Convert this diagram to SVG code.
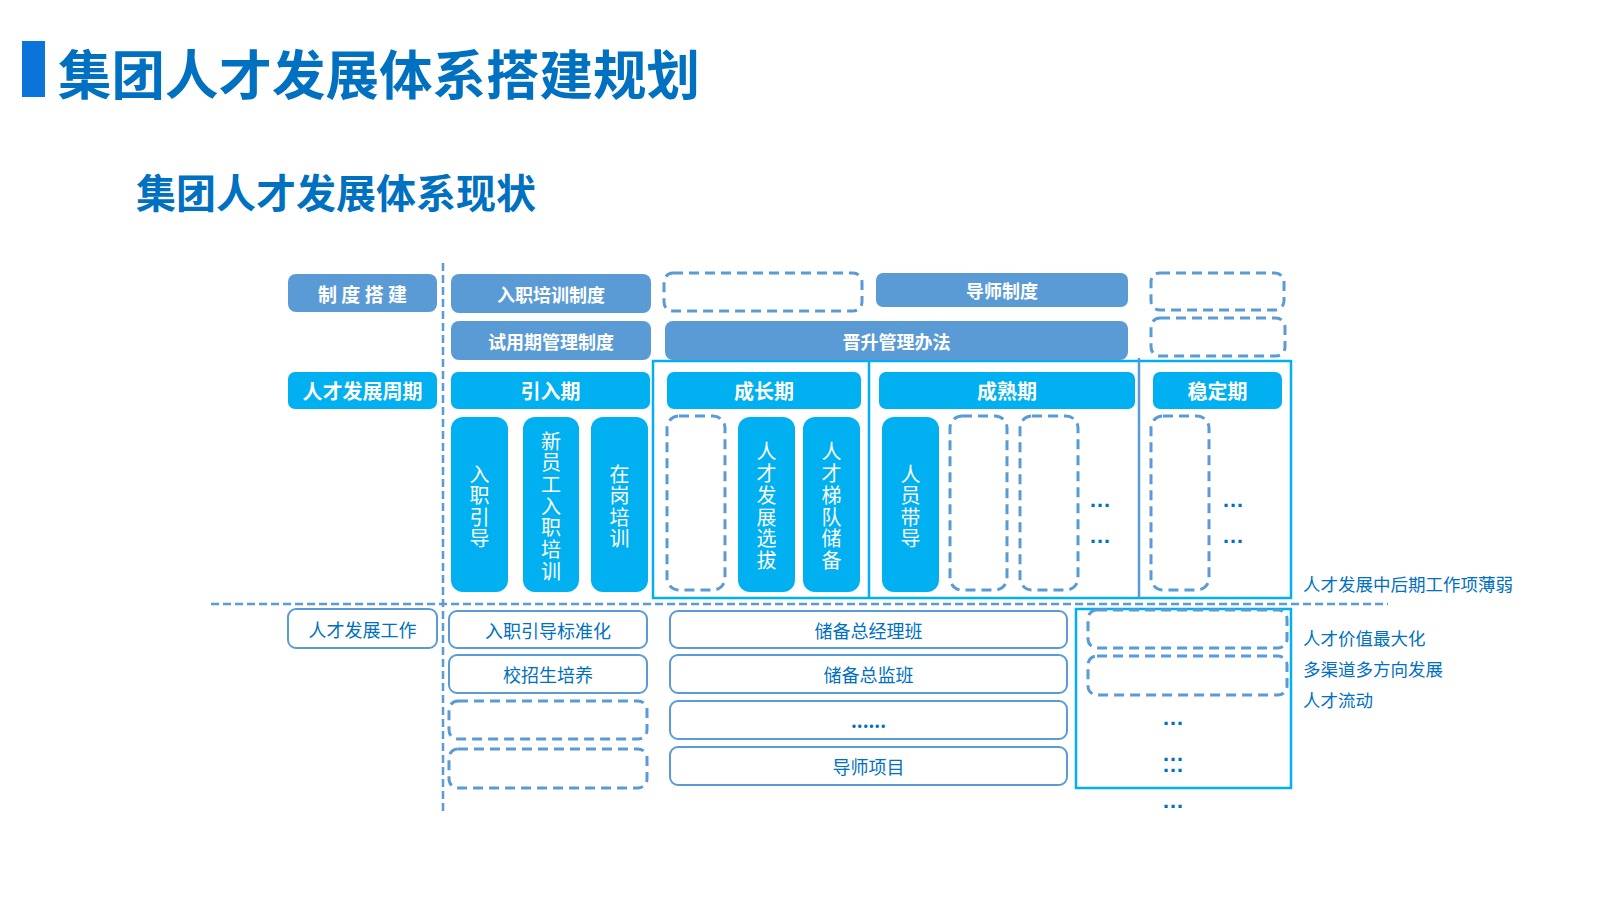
<svg xmlns="http://www.w3.org/2000/svg" width="1600" height="900" viewBox="0 0 1600 900">
<style>
text{font-family:"Noto Sans CJK SC","Noto Sans",sans-serif;dominant-baseline:central}
.m{fill:#5b9bd5}
.c{fill:#00b0f0}
.dash{fill:none;stroke:#5b9bd5;stroke-width:3;stroke-dasharray:10 6}
.out{fill:#fff;stroke:#5b9bd5;stroke-width:2}
.frame{fill:none;stroke:#00b0f0;stroke-width:2.5}
.div{stroke-width:2.5}
.wb{fill:#fff;font-weight:bold;text-anchor:middle}
.wv{fill:#fff;font-size:20px;text-anchor:middle;writing-mode:vertical-rl;text-orientation:upright}
.wv4{letter-spacing:1.5px}
.wv67{letter-spacing:1.7px}
.bt{fill:#0070c0;font-size:18px;text-anchor:middle}
.rt{fill:#0070c0;font-size:17.5px}
.dots{fill:#0070c0;font-family:"Liberation Sans",sans-serif;font-weight:bold;font-size:22px;text-anchor:middle}
.dl{fill:none;stroke:#5b9bd5;stroke-width:2.5;stroke-dasharray:8 4}
</style>

<g id="title">
<rect x="22" y="41" width="23" height="56" fill="#0a74da"/>
<text x="58" y="71" font-size="53.5" font-weight="bold" fill="#0070c0">集团人才发展体系搭建规划</text>
</g>
<g id="subtitle">
<text x="136" y="191" font-size="40" font-weight="bold" fill="#0070c0">集团人才发展体系现状</text>
</g>

<g id="connectors">
<line class="dl" x1="443" y1="263" x2="443" y2="811"/>
<line class="dl" x1="211" y1="604" x2="1388" y2="604"/>
<rect class="frame" x="653" y="361" width="638" height="237"/>
<line class="div" stroke="#00b0f0" x1="869" y1="358" x2="869" y2="598"/>
<line class="div" stroke="#5b9bd5" x1="1139" y1="358" x2="1139" y2="598"/>
<rect class="frame" x="1076" y="609" width="215" height="179"/>
</g>

<g id="label-system">
<rect class="m" x="288" y="274" width="149" height="38" rx="8"/>
<text class="wb" x="362.5" y="293" font-size="19">制 度 搭 建</text>
</g>
<g id="label-cycle">
<rect class="c" x="288" y="372" width="149" height="37" rx="7"/>
<text class="wb" x="362.5" y="390.5" font-size="20">人才发展周期</text>
</g>
<g id="label-work">
<rect class="out" x="288" y="609" width="149" height="39" rx="8"/>
<text class="bt" x="362.5" y="628.5">人才发展工作</text>
</g>

<g id="sys-onboard">
<rect class="m" x="451" y="274" width="200" height="39" rx="8"/>
<text class="wb" x="551" y="293.5" font-size="18">入职培训制度</text>
</g>
<g id="sys-probation">
<rect class="m" x="451" y="321" width="200" height="39" rx="8"/>
<text class="wb" x="551" y="340.5" font-size="18">试用期管理制度</text>
</g>
<g id="sys-empty1"><rect class="dash" x="664" y="273" width="198" height="38" rx="9"/></g>
<g id="sys-mentor">
<rect class="m" x="876" y="273" width="252" height="34" rx="7"/>
<text class="wb" x="1002" y="290" font-size="18">导师制度</text>
</g>
<g id="sys-empty2"><rect class="dash" x="1151" y="273" width="133" height="37" rx="9"/></g>
<g id="sys-promotion">
<rect class="m" x="665" y="321" width="463" height="39" rx="8"/>
<text class="wb" x="896.5" y="340.5" font-size="18">晋升管理办法</text>
</g>
<g id="sys-empty3"><rect class="dash" x="1151" y="318" width="134" height="38" rx="9"/></g>

<g id="phase-intro">
<rect class="c" x="451" y="372" width="199" height="37" rx="7"/>
<text class="wb" x="550.5" y="390.5" font-size="20">引入期</text>
</g>
<g id="phase-growth">
<rect class="c" x="667" y="372" width="194" height="37" rx="7"/>
<text class="wb" x="764" y="390.5" font-size="20">成长期</text>
</g>
<g id="phase-mature">
<rect class="c" x="879" y="372" width="256" height="37" rx="7"/>
<text class="wb" x="1007" y="390.5" font-size="20">成熟期</text>
</g>
<g id="phase-stable">
<rect class="c" x="1153" y="372" width="129" height="37" rx="7"/>
<text class="wb" x="1217.5" y="390.5" font-size="20">稳定期</text>
</g>

<g id="pill-guide">
<rect class="c" x="451" y="417" width="57" height="175" rx="12"/>
<text class="wv wv4" x="479.5" y="507">入职引导</text>
</g>
<g id="pill-newhire">
<rect class="c" x="523" y="417" width="56" height="175" rx="12"/>
<text class="wv wv67" x="551" y="507">新员工入职培训</text>
</g>
<g id="pill-onjob">
<rect class="c" x="591" y="417" width="57" height="175" rx="12"/>
<text class="wv wv4" x="619.5" y="507">在岗培训</text>
</g>
<g id="pill-g-empty"><rect class="dash" x="667" y="416" width="58" height="174" rx="12"/></g>
<g id="pill-select">
<rect class="c" x="738" y="417" width="57" height="175" rx="12"/>
<text class="wv wv67" x="766.5" y="507">人才发展选拔</text>
</g>
<g id="pill-reserve">
<rect class="c" x="803" y="417" width="57" height="175" rx="12"/>
<text class="wv wv67" x="831.5" y="507">人才梯队储备</text>
</g>
<g id="pill-coach">
<rect class="c" x="882" y="417" width="57" height="175" rx="12"/>
<text class="wv wv4" x="910.5" y="507">人员带导</text>
</g>
<g id="pill-m-empty1"><rect class="dash" x="950" y="416" width="57" height="174" rx="12"/></g>
<g id="pill-m-empty2"><rect class="dash" x="1020" y="416" width="58" height="174" rx="12"/></g>
<g id="dots-mature">
<text class="dots" x="1100" y="499">…</text>
<text class="dots" x="1100" y="535">…</text>
</g>
<g id="pill-s-empty"><rect class="dash" x="1151" y="416" width="58" height="174" rx="12"/></g>
<g id="dots-stable">
<text class="dots" x="1233" y="499">…</text>
<text class="dots" x="1233" y="535">…</text>
</g>

<g id="work-standard">
<rect class="out" x="449" y="611" width="198" height="37" rx="8"/>
<text class="bt" x="548" y="629.5">入职引导标准化</text>
</g>
<g id="work-campus">
<rect class="out" x="449" y="655" width="198" height="38" rx="8"/>
<text class="bt" x="548" y="674">校招生培养</text>
</g>
<g id="work-empty1"><rect class="dash" x="449" y="701" width="198" height="38" rx="9"/></g>
<g id="work-empty2"><rect class="dash" x="449" y="749" width="198" height="39" rx="9"/></g>

<g id="work-gm">
<rect class="out" x="670" y="611" width="397" height="37" rx="8"/>
<text class="bt" x="868.5" y="629.5">储备总经理班</text>
</g>
<g id="work-director">
<rect class="out" x="670" y="655" width="397" height="38" rx="8"/>
<text class="bt" x="868.5" y="674">储备总监班</text>
</g>
<g id="work-more">
<rect class="out" x="670" y="701" width="397" height="38" rx="8"/>
<text class="bt" x="868.5" y="720" font-family="Liberation Sans,sans-serif" font-weight="bold">......</text>
</g>
<g id="work-mentor">
<rect class="out" x="670" y="747" width="397" height="38" rx="8"/>
<text class="bt" x="868.5" y="766">导师项目</text>
</g>

<g id="work-r-empty1"><rect class="dash" x="1088" y="610" width="199" height="38" rx="9"/></g>
<g id="work-r-empty2"><rect class="dash" x="1088" y="656" width="199" height="39" rx="9"/></g>
<g id="dots-work">
<text class="dots" x="1173" y="717">…</text>
<text class="dots" x="1173" y="753">…</text>
<text class="dots" x="1173" y="764">…</text>
<text class="dots" x="1173" y="800">…</text>
</g>

<g id="notes">
<text class="rt" x="1303" y="583">人才发展中后期工作项薄弱</text>
<text class="rt" x="1303" y="637">人才价值最大化</text>
<text class="rt" x="1303" y="668">多渠道多方向发展</text>
<text class="rt" x="1303" y="699">人才流动</text>
</g>
</svg>
